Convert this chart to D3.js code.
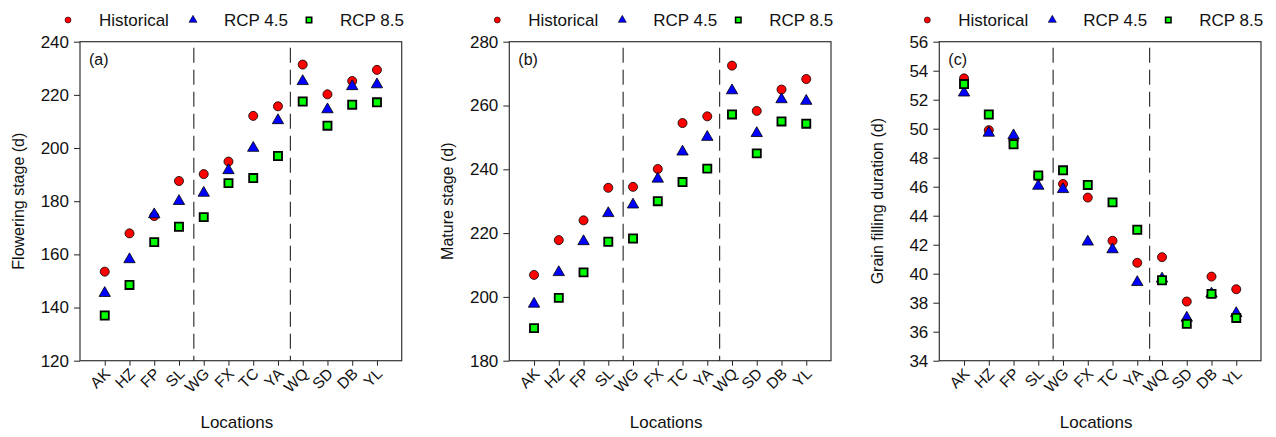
<!DOCTYPE html>
<html>
<head>
<meta charset="utf-8">
<script src="https://cdn.jsdelivr.net/npm/d3@7"></script>
<style>
  body { margin: 0; background: #fff; }
  svg { display: block; font-family: "Liberation Sans", Arial, sans-serif; }
</style>
</head>
<body>
<script>

var locations = ["AK", "HZ", "FP", "SL", "WG", "FX", "TC", "YA", "WQ", "SD", "DB", "YL"];
var dividers = [4.6, 8.5];

// (a) flowering stage
var flowerHist  = [153.5, 167.9, 174.4, 187.6, 190.2, 194.9, 212.1, 215.7, 231.4, 220.2, 225.2, 229.4];
var flowerRcp45 = [145.4, 158.1, 175.0, 180.0, 183.1, 191.6, 200.0, 210.4, 225.1, 214.5, 223.2, 223.9];
var flowerRcp85 = [137.0, 148.5, 164.6, 170.4, 174.0, 186.8, 188.7, 197.0, 217.5, 208.4, 216.3, 217.2];
var flowerTicks = [120, 140, 160, 180, 200, 220, 240];

// (b) mature stage
var matureHist  = [206.9, 217.8, 224.0, 234.2, 234.5, 240.1, 254.5, 256.6, 272.5, 258.3, 265.0, 268.3];
var matureRcp45 = [197.8, 207.7, 217.4, 226.2, 228.9, 237.0, 245.5, 250.1, 264.7, 251.3, 261.9, 261.4];
var matureRcp85 = [190.2, 199.7, 207.7, 217.3, 218.3, 230.0, 236.0, 240.2, 257.2, 245.0, 255.0, 254.3];
var matureTicks = [180, 200, 220, 240, 260, 280];

// (c) grain filling duration
var grainHist  = [53.47, 49.90, 49.20, 46.70, 46.19, 45.25, 42.27, 40.75, 41.14, 38.08, 39.80, 38.93];
var grainRcp45 = [52.48, 49.71, 49.53, 46.05, 45.82, 42.20, 41.67, 39.41, 39.65, 36.95, 38.62, 37.27];
var grainRcp85 = [53.08, 50.98, 48.93, 46.77, 47.13, 46.12, 44.92, 43.03, 39.55, 36.54, 38.61, 36.95];
var grainTicks = [34, 36, 38, 40, 42, 44, 46, 48, 50, 52, 54, 56];

var seriesNames = ["Historical", "RCP 4.5", "RCP 8.5"];

var panels = [
    { tag: "(a)", title: "Flowering stage (d)", left: 80, ticks: flowerTicks,
      series: [flowerHist, flowerRcp45, flowerRcp85] },
    { tag: "(b)", title: "Mature stage (d)", left: 509.3, ticks: matureTicks,
      series: [matureHist, matureRcp45, matureRcp85] },
    { tag: "(c)", title: "Grain filling duration (d)", left: 939.3, ticks: grainTicks,
      series: [grainHist, grainRcp45, grainRcp85] }
];

var W = 1276, H = 437;
var plotW = 321.7, plotTop = 41.7, plotBottom = 360.7;

var styles = [
    { type: d3.symbolCircle,   size: 64, fill: "#ff0000", sw: 0.8, legSize: 28 },
    { type: d3.symbolTriangle, size: 56, fill: "#0000ff", sw: 0.8, legSize: 28 },
    { type: d3.symbolSquare,   size: 66, fill: "#00ff00", sw: 1.8, legSize: 30 }
];

var canvas = d3.select("body").append("svg")
    .attr("width", W).attr("height", H);

panels.forEach(function (p) {
    var g = canvas.append("g");

    var x = d3.scaleLinear().domain([0, 13]).range([p.left, p.left + plotW]);
    var y = d3.scaleLinear().domain(d3.extent(p.ticks)).range([plotBottom, plotTop]);

    // axes
    var ax = g.append("g")
        .attr("transform", "translate(" + p.left + ",0)")
        .call(d3.axisLeft(y).tickValues(p.ticks).tickSize(6).tickPadding(5));
    ax.select(".domain").remove();
    ax.selectAll("line").attr("stroke", "#222");
    ax.selectAll("text").attr("font-size", "17px").attr("fill", "#111");

    var bx = g.append("g")
        .attr("transform", "translate(0," + plotBottom + ")")
        .call(d3.axisBottom(x)
            .tickValues(d3.range(1, locations.length + 1))
            .tickFormat(function (d) { return locations[d - 1]; })
            .tickSize(5));
    bx.select(".domain").remove();
    bx.selectAll("line").attr("stroke", "#222");
    bx.selectAll("text")
        .attr("font-size", "15.5px")
        .attr("fill", "#111")
        .attr("text-anchor", "end")
        .attr("dy", null)
        .attr("y", 0)
        .attr("transform", "translate(6,14) rotate(-45)");

    // frame
    g.append("rect")
        .attr("x", p.left).attr("y", plotTop)
        .attr("width", plotW).attr("height", plotBottom - plotTop)
        .attr("fill", "none")
        .attr("stroke", "#333")
        .attr("stroke-width", 1.2);

    // group dividers
    g.selectAll("line.div")
        .data(dividers)
        .enter()
        .append("line")
        .attr("class", "div")
        .attr("x1", function (d) { return x(d); })
        .attr("x2", function (d) { return x(d); })
        .attr("y1", plotTop + 6).attr("y2", plotBottom)
        .attr("stroke", "#222")
        .attr("stroke-width", 1.1)
        .attr("stroke-dasharray", "15,7");

    // points
    p.series.forEach(function (vals, k) {
        var st = styles[k];
        g.selectAll("path.s" + k)
            .data(vals)
            .enter()
            .append("path")
            .attr("class", "s" + k)
            .attr("d", d3.symbol().type(st.type).size(st.size))
            .attr("transform", function (d, i) {
                return "translate(" + x(i + 1) + "," + y(d) + ")";
            })
            .attr("fill", st.fill)
            .attr("stroke", "#000")
            .attr("stroke-width", st.sw);
    });

    // panel tag
    g.append("text")
        .attr("x", p.left + 9).attr("y", plotTop + 23)
        .attr("font-size", "16px").attr("fill", "#111")
        .text(p.tag);

    // y title
    g.append("text")
        .attr("transform", "translate(" + (p.left - 56) + "," + ((plotTop + plotBottom) / 2) + ") rotate(-90)")
        .attr("text-anchor", "middle")
        .attr("font-size", "16px").attr("fill", "#111")
        .text(p.title);

    // x title
    g.append("text")
        .attr("x", p.left + plotW / 2 - 4).attr("y", 428)
        .attr("text-anchor", "middle")
        .attr("font-size", "17px").attr("fill", "#111")
        .text("Locations");

    // legend
    var legOff = [-12, 113, 229];
    var leg = g.selectAll("g.leg")
        .data(seriesNames)
        .enter()
        .append("g")
        .attr("class", "leg")
        .attr("transform", function (d, i) { return "translate(" + (p.left + legOff[i]) + ",20)"; });
    leg.append("path")
        .attr("d", function (d, i) { return d3.symbol().type(styles[i].type).size(styles[i].legSize)(); })
        .attr("fill", function (d, i) { return styles[i].fill; })
        .attr("stroke", "#000")
        .attr("stroke-width", function (d, i) { return i == 2 ? 1.5 : 0.6; });
    leg.append("text")
        .attr("x", 31).attr("y", 6)
        .attr("font-size", "17px").attr("fill", "#111")
        .text(function (d) { return d; });
});

</script>
</body>
</html>
